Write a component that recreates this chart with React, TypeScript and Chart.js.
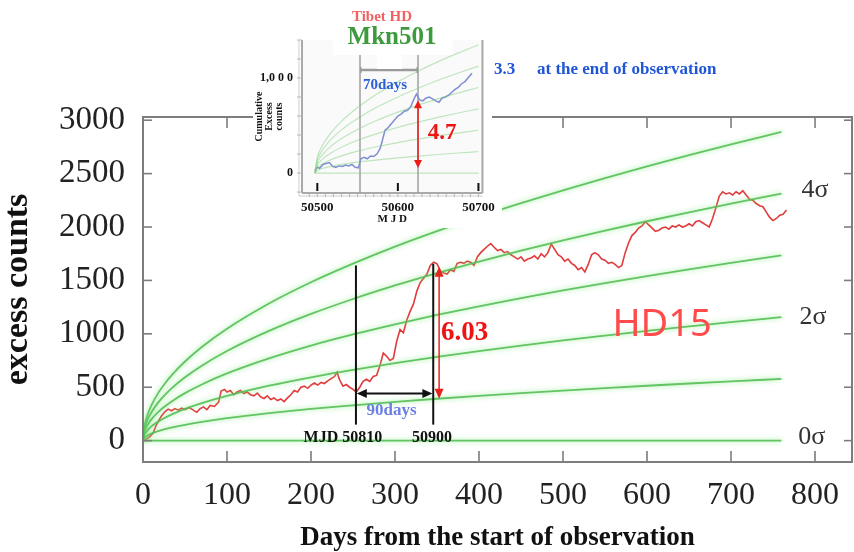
import React, { useEffect, useRef } from 'react';
import { Chart, registerables } from 'chart.js';

Chart.register(...registerables);

const SERIF = "'Liberation Serif', 'Times New Roman', serif";
const SANS = "'Noto Sans', 'DejaVu Sans', sans-serif";

// ---------- main chart data ----------
const xTickValues = [0, 100, 200, 300, 400, 500, 600, 700, 800];
const yTickValues = [0, 500, 1000, 1500, 2000, 2500, 3000];

const sigmaDays = [0, 1, 3, 6, 10, 18, 25, 35, 50, 70, 100, 150, 200, 250, 300, 350, 400, 450, 500, 550, 600, 650, 700, 760];
const sigma1 = [0, 21, 36, 51, 66, 89, 105, 124, 148, 175, 210, 257, 297, 331, 363, 392, 419, 445, 469, 492, 514, 535, 555, 578];
const sigma2 = [0, 42, 73, 103, 133, 178, 210, 248, 297, 351, 419, 514, 593, 663, 726, 784, 839, 890, 938, 983, 1027, 1069, 1110, 1156];
const sigma3 = [0, 63, 109, 154, 199, 267, 315, 372, 445, 526, 629, 770, 890, 994, 1089, 1177, 1258, 1334, 1406, 1475, 1541, 1604, 1664, 1734];
const sigma4 = [0, 84, 145, 205, 265, 356, 419, 496, 593, 702, 839, 1027, 1186, 1326, 1453, 1569, 1677, 1779, 1875, 1967, 2054, 2138, 2219, 2312];
const sigma5 = [0, 105, 181, 257, 331, 445, 524, 620, 741, 877, 1048, 1284, 1483, 1657, 1816, 1961, 2097, 2224, 2344, 2458, 2568, 2673, 2774, 2890];
const sigma0Days = [0, 760];
const sigma0 = [0, 0];

const redDays = [
  0, 4, 8, 12, 15, 18, 22, 26, 30, 34, 38, 42, 46, 50, 55, 60, 64, 68, 72, 76, 80, 85, 90, 93, 97,
  100, 104, 108, 112, 116, 120, 124, 128, 132, 136, 140, 144, 148, 152, 156, 160, 164, 168, 172, 176,
  180, 184, 188, 192, 196, 200, 204, 208, 212, 216, 220, 224, 228, 231, 234,
  238, 242, 246, 250, 254, 258, 262, 266, 270, 274, 278, 282, 286, 290, 294, 298, 302, 306, 310, 314,
  318, 322, 326, 330, 334, 338, 342, 346, 350, 354, 358, 362, 366, 370, 374, 378, 382, 386, 390, 394,
  398, 402, 406, 410, 414, 418, 422, 426, 430, 434, 438, 442, 446, 450, 454, 458, 462, 466, 470, 474,
  478, 482, 486, 490, 494, 498, 502, 506, 510, 514, 518, 522, 526, 530, 534, 538, 542, 546, 550, 554,
  558, 562, 566, 570, 574, 578, 582, 586, 590, 594, 598, 602, 606, 610, 614, 618, 622, 626, 630, 634,
  638, 642, 646, 650, 654, 658, 662, 666, 670, 674, 678, 682, 686, 690, 694, 698, 702, 706, 710, 714,
  718, 722, 726, 730, 734, 738, 742, 746, 750, 754, 758, 762, 766
];
const redCounts = [
  0, 15, 35, 70, 130, 180, 230, 270, 295, 280, 300, 285, 305, 290, 310, 285, 265, 300, 315, 290, 330, 320, 360, 465, 480,
  455, 470, 430, 455, 470, 440, 455, 430, 420, 445, 410, 395, 420, 385, 400, 375, 390, 365, 400, 430,
  470, 455, 500, 510, 490, 520, 540, 520, 545, 535, 560, 580, 600, 640, 570,
  510, 525, 500, 480, 455, 500, 555, 575, 555, 600, 610, 700, 820, 790, 750, 770, 930, 1040, 1010, 1130,
  1210, 1280, 1400, 1480, 1520, 1560, 1640, 1670, 1655, 1590, 1570, 1560, 1600, 1585, 1660, 1670, 1660, 1680, 1670, 1640,
  1720, 1760, 1790, 1820, 1845, 1810, 1780, 1790, 1760, 1770, 1740, 1720, 1700, 1720, 1680, 1700, 1710, 1730, 1700, 1750,
  1720, 1760, 1840, 1790, 1740, 1720, 1680, 1700, 1660, 1640, 1600, 1620, 1580, 1650, 1740, 1760, 1740, 1700, 1690, 1660,
  1670, 1650, 1620, 1640, 1760, 1850, 1920, 1950, 1990, 2010, 2050, 2020, 1990, 1960, 1970, 1990, 2000, 1980, 2010, 2000,
  2020, 2000, 2010, 2030, 2010, 2050, 2060, 2040, 2020, 2000, 2080, 2180, 2290, 2330, 2310, 2320, 2300, 2330, 2310, 2340,
  2300, 2260, 2250, 2220, 2200, 2190, 2140, 2090, 2060, 2080, 2110, 2120, 2160
];

// ---------- inset data ----------
const insetXTicks = [50500, 50600, 50700];
const insetYTicks = [0, 1000];
const insetSigmaMjd = [50497, 50500, 50505, 50515, 50530, 50550, 50575, 50600, 50625, 50650, 50675, 50700];
const insetSigma0 = [0, 0, 0, 0, 0, 0, 0, 0, 0, 0, 0, 0];
const insetSigma1 = [0, 27, 45, 67, 91, 115, 139, 160, 179, 195, 211, 225];
const insetSigma2 = [0, 55, 89, 134, 181, 230, 279, 321, 357, 391, 421, 450];
const insetSigma3 = [0, 82, 134, 201, 272, 345, 418, 481, 536, 586, 632, 675];
const insetSigma4 = [0, 109, 179, 268, 363, 459, 558, 641, 715, 781, 843, 900];
const insetSigma5 = [0, 137, 223, 335, 454, 574, 697, 801, 893, 977, 1053, 1125];
const insetSigma6 = [0, 164, 268, 402, 544, 689, 837, 962, 1072, 1172, 1264, 1350];
const insetMjd = [
  50497, 50500, 50503, 50507, 50511, 50515, 50519, 50523, 50527, 50531,
  50535, 50539, 50543, 50547, 50551, 50554, 50558, 50562, 50566, 50570,
  50574, 50578, 50581, 50584, 50587, 50590, 50593, 50596, 50600, 50604,
  50608, 50612, 50616, 50620, 50623, 50627, 50631, 50635, 50639, 50643,
  50647, 50651, 50655, 50659, 50663, 50667, 50671, 50675, 50679, 50683,
  50687, 50692
];
const insetCounts = [
  30, 60, 50, 90, 100, 110, 70, 60, 75, 70,
  85, 75, 90, 60, 55, 150, 165, 150, 180, 175,
  200, 260, 350, 450, 470, 500, 530, 560, 600, 620,
  650, 660, 700, 780, 830, 770, 760, 790, 800, 780,
  760, 745, 790, 800, 820, 850, 880, 900, 940, 960,
  1000, 1050
];

const pts = (xs: number[], ys: number[]) => {
  const n = Math.min(xs.length, ys.length);
  const out: { x: number; y: number }[] = [];
  for (let i = 0; i < n; i++) out.push({ x: xs[i], y: ys[i] });
  return out;
};

// ---------- drawing helpers ----------
const seg = (ctx: any, x1: number, y1: number, x2: number, y2: number) => {
  ctx.beginPath();
  ctx.moveTo(x1, y1);
  ctx.lineTo(x2, y2);
  ctx.stroke();
};
const head = (ctx: any, x: number, y: number, ang: number, len: number, w: number) => {
  const bx = x - len * Math.cos(ang);
  const by = y - len * Math.sin(ang);
  ctx.beginPath();
  ctx.moveTo(x, y);
  ctx.lineTo(bx + w * Math.sin(ang), by - w * Math.cos(ang));
  ctx.lineTo(bx - w * Math.sin(ang), by + w * Math.cos(ang));
  ctx.closePath();
  ctx.fill();
};
const dblArrow = (ctx: any, x1: number, y1: number, x2: number, y2: number, color: string, lw: number, len: number, w: number) => {
  ctx.save();
  ctx.strokeStyle = color;
  ctx.fillStyle = color;
  ctx.lineWidth = lw;
  const ang = Math.atan2(y2 - y1, x2 - x1);
  seg(ctx, x1 + len * 0.7 * Math.cos(ang), y1 + len * 0.7 * Math.sin(ang), x2 - len * 0.7 * Math.cos(ang), y2 - len * 0.7 * Math.sin(ang));
  head(ctx, x2, y2, ang, len, w);
  head(ctx, x1, y1, ang + Math.PI, len, w);
  ctx.restore();
};
const txt = (ctx: any, s: string, x: number, y: number, font: string, color: string, align: string = 'center') => {
  ctx.save();
  ctx.font = font;
  ctx.fillStyle = color;
  ctx.textAlign = align;
  ctx.textBaseline = 'middle';
  ctx.fillText(s, x, y);
  ctx.restore();
};

const glowPlugin = {
  id: 'glow',
  beforeDatasetDraw(chart: any, args: any) {
    const ds = chart.data.datasets[args.index];
    if (ds.glow) {
      chart.ctx.save();
      chart.ctx.shadowColor = ds.glow;
      chart.ctx.shadowBlur = ds.glowBlur || 5;
    }
  },
  afterDatasetDraw(chart: any, args: any) {
    const ds = chart.data.datasets[args.index];
    if (ds.glow) chart.ctx.restore();
  }
};

const mainFramePlugin = {
  id: 'mainFrame',
  beforeDraw(chart: any) {
    const ctx = chart.ctx;
    ctx.save();
    ctx.fillStyle = '#ffffff';
    ctx.fillRect(0, 0, chart.width, chart.height);
    ctx.restore();
  },
  afterDatasetsDraw(chart: any) {
    const { ctx, chartArea, scales } = chart;
    const { left, right, top, bottom } = chartArea;
    const x = scales.x;
    const y = scales.y;
    ctx.save();
    ctx.strokeStyle = '#7d7d7d';
    ctx.lineWidth = 2;
    ctx.strokeRect(left, top, right - left, bottom - top);
    ctx.lineWidth = 1.6;
    xTickValues.forEach((v) => {
      if (v === 0) return;
      const px = x.getPixelForValue(v);
      seg(ctx, px, bottom, px, bottom - 11);
      seg(ctx, px, top, px, top + 11);
    });
    yTickValues.forEach((v) => {
      const py = y.getPixelForValue(v);
      seg(ctx, left, py, left + 9, py);
      seg(ctx, right, py, right - 8, py);
    });
    ctx.restore();

    // annotations
    const X = (v: number) => x.getPixelForValue(v);
    const Y = (v: number) => y.getPixelForValue(v);
    ctx.save();
    ctx.strokeStyle = '#111';
    ctx.lineWidth = 2;
    seg(ctx, X(253.5), Y(1640), X(253.5), Y(150));
    seg(ctx, X(345.5), Y(1655), X(345.5), Y(150));
    ctx.restore();
    dblArrow(ctx, X(254.5), Y(442), X(344.5), Y(442), '#111', 2, 10, 4.5);
    dblArrow(ctx, X(352.5), Y(1628), X(352.5), Y(393), '#e8231f', 1.5, 10, 4.5);

    txt(ctx, 'MJD 50810', X(238), Y(28), `bold 16px ${SERIF}`, '#111');
    txt(ctx, '50900', X(344), Y(28), `bold 16px ${SERIF}`, '#111');
    txt(ctx, '90days', X(296), Y(281), `bold 17px ${SERIF}`, '#6b7fe3');
    txt(ctx, '6.03', X(383), Y(1011), `bold 27px ${SERIF}`, '#ee1414');
    txt(ctx, 'HD15', X(618), Y(1077), `38px ${SANS}`, '#ff4b4b');
    txt(ctx, '4σ', X(800), Y(2341), `26px ${SERIF}`, '#333');
    txt(ctx, '2σ', X(797.6), Y(1152), `26px ${SERIF}`, '#333');
    txt(ctx, '0σ', X(796), Y(37), `26px ${SERIF}`, '#333');

    txt(ctx, '3.3', 494, 70, `bold 17px ${SERIF}`, '#1f55d8', 'left');
    txt(ctx, 'at the end of observation', 537, 70, `bold 17px ${SERIF}`, '#1f55d8', 'left');
  }
};

// inset canvas offset in page: left 250, top 0
const insetPlugin = {
  id: 'insetDeco',
  beforeDraw(chart: any) {
    const ctx = chart.ctx;
    const { left, right, top, bottom } = chart.chartArea;
    ctx.save();
    ctx.fillStyle = '#ffffff';
    ctx.fillRect(3, 60, 46, 125);
    ctx.fillRect(44, 34, 198, 168);
    ctx.fillRect(48, 200, 204, 28);
    ctx.fillStyle = '#fafafa';
    ctx.fillRect(left, top, right - left, bottom - top);
    ctx.restore();
  },
  beforeDatasetsDraw(chart: any) {
    const { ctx, chartArea, scales } = chart;
    const { left, right, top, bottom } = chartArea;
    const x = scales.x;
    const y = scales.y;
    ctx.save();
    ctx.strokeStyle = '#a9a9a9';
    ctx.lineWidth = 2;
    seg(ctx, left, top, left, bottom);
    seg(ctx, left, bottom, right, bottom);
    seg(ctx, right, top, right, bottom);
    ctx.strokeStyle = '#cfcfcf';
    ctx.lineWidth = 1;
    seg(ctx, left - 3, top, left - 3, bottom + 3);
    seg(ctx, left - 3, bottom + 3, right, bottom + 3);
    // minor ticks
    ctx.strokeStyle = '#b5b5b5';
    for (let v = 50490; v <= 50700; v += 10) {
      const px = x.getPixelForValue(v);
      seg(ctx, px, bottom, px, bottom + 4);
    }
    for (let v = -200; v <= 1400; v += 200) {
      const py = y.getPixelForValue(v);
      seg(ctx, left - 5, py, left, py);
    }
    // vertical markers
    ctx.strokeStyle = '#a0a0a0';
    ctx.lineWidth = 1.5;
    seg(ctx, x.getPixelForValue(50553), top, x.getPixelForValue(50553), bottom);
    seg(ctx, x.getPixelForValue(50625), top, x.getPixelForValue(50625), bottom);
    ctx.restore();
  },
  afterDatasetsDraw(chart: any) {
    const { ctx, chartArea, scales } = chart;
    const { bottom } = chartArea;
    const x = scales.x;
    const y = scales.y;
    const X = (v: number) => x.getPixelForValue(v);
    const Y = (v: number) => y.getPixelForValue(v);
    ctx.save();
    ctx.strokeStyle = '#111';
    ctx.lineWidth = 2;
    insetXTicks.forEach((v) => seg(ctx, X(v), bottom - 10, X(v), bottom - 2));
    // bracket
    ctx.strokeStyle = '#9a9a9a';
    ctx.lineWidth = 2.5;
    seg(ctx, X(50553), Y(1084), X(50625), Y(1084));
    ctx.lineWidth = 1.5;
    seg(ctx, X(50554), Y(1084) - 3, X(50554), Y(1084) + 3);
    seg(ctx, X(50624), Y(1084) - 3, X(50624), Y(1084) + 3);
    // white label boxes
    ctx.fillStyle = '#ffffff';
    ctx.fillRect(83, 0, 120, 55);
    ctx.fillRect(127, 55, 25, 14);
    ctx.restore();

    dblArrow(ctx, X(50625), Y(765), X(50625), Y(52), '#ee1a1a', 1.5, 8, 4);

    txt(ctx, 'Tibet HD', 132, 17, `bold 15px ${SERIF}`, '#f06262');
    txt(ctx, 'Mkn501', 142, 38, `bold 25px ${SERIF}`, '#3d9a3d');
    txt(ctx, '70days', X(50584), Y(926), `bold 15px ${SERIF}`, '#2b5fd9');
    txt(ctx, '4.7', X(50655), Y(421), `bold 23px ${SERIF}`, '#ee1414');
  }
};

export default function App() {
  const mainRef = useRef<HTMLCanvasElement | null>(null);
  const insetRef = useRef<HTMLCanvasElement | null>(null);

  useEffect(() => {
    if (!mainRef.current || !insetRef.current) return;

    const sigmaDs = (xs: number[], ys: number[]) => ({
      data: pts(xs, ys),
      borderColor: 'rgba(84,190,84,0.9)',
      borderWidth: 1.8,
      pointRadius: 0,
      cubicInterpolationMode: 'monotone',
      glow: 'rgba(130,235,130,1)',
      glowBlur: 5
    });

    const main = new Chart(mainRef.current, {
      type: 'line',
      data: {
        datasets: [
          sigmaDs(sigma0Days, sigma0),
          sigmaDs(sigmaDays, sigma1),
          sigmaDs(sigmaDays, sigma2),
          sigmaDs(sigmaDays, sigma3),
          sigmaDs(sigmaDays, sigma4),
          sigmaDs(sigmaDays, sigma5),
          {
            data: pts(redDays, redCounts),
            borderColor: '#e23b3b',
            borderWidth: 1.6,
            pointRadius: 0,
            tension: 0
          }
        ] as any
      },
      options: {
        responsive: false,
        animation: false,
        events: [],
        layout: { padding: { top: 117, right: 2, left: 0, bottom: 0 } },
        plugins: { legend: { display: false }, tooltip: { enabled: false } },
        scales: {
          x: {
            type: 'linear',
            min: 0,
            max: 844,
            afterBuildTicks: (s: any) => { s.ticks = xTickValues.map((v) => ({ value: v })); },
            afterFit: (s: any) => { s.height = 90; },
            grid: { display: false, drawTicks: false },
            border: { display: false },
            ticks: {
              font: { family: SERIF, size: 32 },
              color: '#222',
              padding: 14,
              maxRotation: 0,
              autoSkip: false,
              callback: (v: any) => String(v)
            },
            title: {
              display: true,
              text: 'Days from the start of observation',
              font: { family: SERIF, size: 27, weight: 'bold', lineHeight: 1 },
              color: '#111',
              padding: { top: 0, bottom: 0 }
            }
          },
          y: {
            type: 'linear',
            min: -200,
            max: 3030,
            afterBuildTicks: (s: any) => { s.ticks = yTickValues.map((v) => ({ value: v })); },
            afterFit: (s: any) => { s.width = 143; },
            grid: { display: false, drawTicks: false },
            border: { display: false },
            ticks: {
              font: { family: SERIF, size: 33 },
              color: '#222',
              padding: 18,
              autoSkip: false,
              callback: (v: any) => String(v)
            },
            title: {
              display: true,
              text: 'excess counts',
              font: { family: SERIF, size: 34, weight: 'bold', lineHeight: 1 },
              color: '#111',
              padding: { top: 1, bottom: 0 }
            }
          }
        }
      } as any,
      plugins: [glowPlugin, mainFramePlugin]
    });

    const insetSig = (ys: number[]) => ({
      data: pts(insetSigmaMjd, ys),
      borderColor: 'rgba(120,205,120,0.45)',
      borderWidth: 1.2,
      pointRadius: 0,
      cubicInterpolationMode: 'monotone'
    });

    const inset = new Chart(insetRef.current, {
      type: 'line',
      data: {
        datasets: [
          insetSig(insetSigma0),
          insetSig(insetSigma1),
          insetSig(insetSigma2),
          insetSig(insetSigma3),
          insetSig(insetSigma4),
          insetSig(insetSigma5),
          insetSig(insetSigma6),
          {
            data: pts(insetMjd, insetCounts),
            borderColor: '#7f8fd2',
            borderWidth: 1.5,
            pointRadius: 0,
            tension: 0
          }
        ] as any
      },
      options: {
        responsive: false,
        animation: false,
        events: [],
        layout: { padding: { top: 40, right: 14, left: 0, bottom: 0 } },
        plugins: { legend: { display: false }, tooltip: { enabled: false } },
        scales: {
          x: {
            type: 'linear',
            min: 50481,
            max: 50705,
            afterBuildTicks: (s: any) => { s.ticks = insetXTicks.map((v) => ({ value: v })); },
            afterFit: (s: any) => { s.height = 35; },
            grid: { display: false, drawTicks: false },
            border: { display: false },
            ticks: {
              font: { family: SERIF, size: 13, weight: 'bold' },
              color: '#111',
              padding: 7,
              maxRotation: 0,
              autoSkip: false,
              callback: (v: any) => String(v)
            },
            title: {
              display: true,
              text: 'M J D',
              font: { family: SERIF, size: 11, weight: 'bold', lineHeight: 1 },
              color: '#111',
              padding: { top: 0, bottom: 3 }
            }
          },
          y: {
            type: 'linear',
            min: -210,
            max: 1400,
            afterBuildTicks: (s: any) => { s.ticks = insetYTicks.map((v) => ({ value: v })); },
            afterFit: (s: any) => { s.width = 52; },
            grid: { display: false, drawTicks: false },
            border: { display: false },
            ticks: {
              font: { family: SERIF, size: 12, weight: 'bold' },
              color: '#111',
              padding: 9,
              autoSkip: false,
              callback: (v: any) => (v === 1000 ? '1,0 0 0' : String(v))
            },
            title: {
              display: true,
              text: ['Cumulative', 'Excess', 'counts'],
              font: { family: SERIF, size: 10, weight: 'bold', lineHeight: 1 },
              color: '#111',
              padding: { top: 4, bottom: 0 }
            }
          }
        }
      } as any,
      plugins: [insetPlugin]
    });

    return () => {
      main.destroy();
      inset.destroy();
    };
  }, []);

  return (
    <div style={{ position: 'fixed', left: 0, top: 0, width: 854, height: 552, background: '#fff', overflow: 'hidden' }}>
      <canvas ref={mainRef} width={854} height={552} style={{ position: 'absolute', left: 0, top: 0 }} />
      <canvas ref={insetRef} width={252} height={228} style={{ position: 'absolute', left: 250, top: 0 }} />
    </div>
  );
}
